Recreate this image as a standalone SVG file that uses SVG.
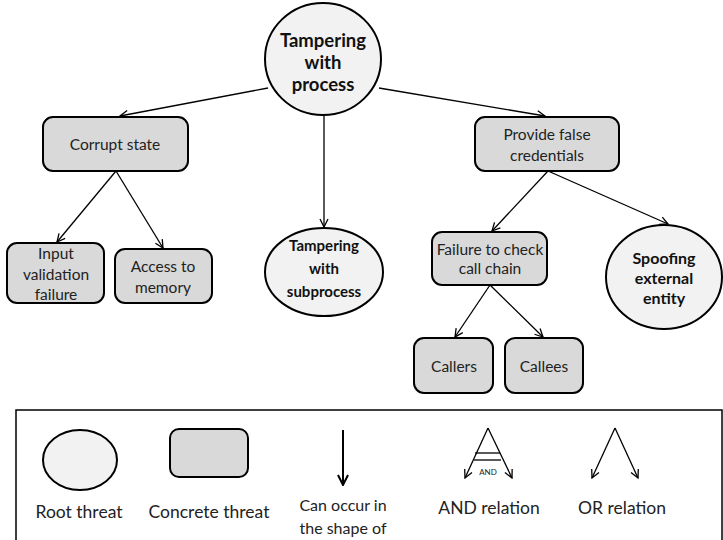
<svg xmlns="http://www.w3.org/2000/svg" width="723" height="540" viewBox="0 0 723 540">
  <style>
    .root { fill: #f2f2f2; stroke: #000; stroke-width: 2; }
    .box { fill: #d9d9d9; stroke: #000; stroke-width: 2; }
    .lbl { font-family: Lato, "Liberation Sans", sans-serif; font-size: 15.5px; fill: #222; text-anchor: middle; dominant-baseline: central; }
    .bold { font-weight: bold; font-size: 16px; fill: #111; }
    .key { font-size: 17.5px; }
    .edge { stroke: #000; stroke-width: 1.3; fill: none; marker-end: url(#arr); }
    .leg { stroke: #000; stroke-width: 1.3; fill: none; }
  </style>
  <defs>
    <marker id="arr" viewBox="0 0 10 10" refX="9" refY="5" markerWidth="10" markerHeight="10" markerUnits="userSpaceOnUse" orient="auto">
      <path d="M1,1 L9,5 L1,9" fill="none" stroke="#000" stroke-width="1.3"/>
    </marker>
    <marker id="arrBig" viewBox="0 0 12 12" refX="11" refY="6" markerWidth="12" markerHeight="12" markerUnits="userSpaceOnUse" orient="auto">
      <path d="M1,1 L11,6 L1,11" fill="none" stroke="#000" stroke-width="2"/>
    </marker>
  </defs>
  <rect width="723" height="540" fill="#fff"/>

  <!-- connectors -->
  <g id="connectors">
    <line class="edge" x1="268" y1="88" x2="120" y2="116"/>
    <line class="edge" x1="379" y1="88" x2="545" y2="116"/>
    <line class="edge" x1="324" y1="116" x2="324" y2="227"/>
    <line class="edge" x1="116" y1="171" x2="57" y2="242"/>
    <line class="edge" x1="116" y1="171" x2="163" y2="248"/>
    <line class="edge" x1="548" y1="171" x2="492" y2="231"/>
    <line class="edge" x1="548" y1="171" x2="668" y2="224"/>
    <line class="edge" x1="490" y1="285" x2="455" y2="337"/>
    <line class="edge" x1="490" y1="285" x2="543" y2="337"/>
  </g>

  <g id="tampering-process">
    <ellipse class="root" cx="323" cy="59" rx="58" ry="56"/>
    <text class="lbl bold" x="323" y="40" style="font-size:18.5px">Tampering</text>
    <text class="lbl bold" x="323" y="62" style="font-size:18.5px">with</text>
    <text class="lbl bold" x="323" y="84" style="font-size:18.5px">process</text>
  </g>

  <g id="corrupt-state">
    <rect class="box" x="43" y="117" width="145" height="54" rx="10"/>
    <text class="lbl" x="115" y="144">Corrupt state</text>
  </g>

  <g id="provide-false-credentials">
    <rect class="box" x="475" y="117" width="144" height="54" rx="10"/>
    <text class="lbl" x="547" y="134">Provide false</text>
    <text class="lbl" x="547" y="155">credentials</text>
  </g>

  <g id="input-validation-failure">
    <rect class="box" x="7" y="243" width="97" height="60" rx="10"/>
    <text class="lbl" x="56" y="253">Input</text>
    <text class="lbl" x="56" y="274">validation</text>
    <text class="lbl" x="56" y="294">failure</text>
  </g>

  <g id="access-to-memory">
    <rect class="box" x="115" y="249" width="97" height="54" rx="10"/>
    <text class="lbl" x="163" y="266">Access to</text>
    <text class="lbl" x="163" y="287">memory</text>
  </g>

  <g id="tampering-subprocess">
    <ellipse class="root" cx="324" cy="272" rx="59" ry="44"/>
    <text class="lbl bold" x="324" y="245" style="font-size:15px">Tampering</text>
    <text class="lbl bold" x="324" y="268" style="font-size:15px">with</text>
    <text class="lbl bold" x="324" y="291" style="font-size:15px">subprocess</text>
  </g>

  <g id="failure-check-call-chain">
    <rect class="box" x="432" y="232" width="115" height="53" rx="10"/>
    <text class="lbl" x="490" y="249">Failure to check</text>
    <text class="lbl" x="490" y="268">call chain</text>
  </g>

  <g id="spoofing-external-entity">
    <ellipse class="root" cx="664" cy="277" rx="58" ry="52"/>
    <text class="lbl bold" x="664" y="257">Spoofing</text>
    <text class="lbl bold" x="664" y="277">external</text>
    <text class="lbl bold" x="664" y="297">entity</text>
  </g>

  <g id="callers">
    <rect class="box" x="414" y="338" width="79" height="55" rx="10"/>
    <text class="lbl" x="454" y="366">Callers</text>
  </g>

  <g id="callees">
    <rect class="box" x="505" y="338" width="78" height="55" rx="10"/>
    <text class="lbl" x="544" y="366">Callees</text>
  </g>

  <!-- legend -->
  <g id="legend">
    <rect x="16" y="410" width="706" height="140" fill="#fff" stroke="#000" stroke-width="1.5"/>
    <ellipse class="root" cx="80" cy="460" rx="37" ry="30"/>
    <text class="lbl key" x="79" y="511">Root threat</text>
    <rect class="box" x="170" y="429" width="78" height="48" rx="9"/>
    <text class="lbl key" x="209" y="511">Concrete threat</text>
    <line x1="343" y1="430" x2="343" y2="485" stroke="#000" stroke-width="2" marker-end="url(#arrBig)"/>
    <text class="lbl" x="343" y="504" style="font-size:16px">Can occur in</text>
    <text class="lbl" x="343" y="527" style="font-size:16px">the shape of</text>
    <!-- AND symbol -->
    <line class="edge" x1="488" y1="428" x2="465" y2="478"/>
    <line class="edge" x1="488" y1="428" x2="512" y2="478"/>
    <line class="leg" x1="475" y1="453" x2="500" y2="453" stroke-width="2"/>
    <line class="leg" x1="474" y1="460" x2="501" y2="460" stroke-width="2"/>
    <text class="lbl" x="488" y="472" style="font-size:8px">AND</text>
    <text class="lbl key" x="489" y="507">AND relation</text>
    <!-- OR symbol -->
    <line class="edge" x1="615" y1="428" x2="592" y2="478"/>
    <line class="edge" x1="615" y1="428" x2="638" y2="478"/>
    <text class="lbl key" x="622" y="507">OR relation</text>
  </g>
</svg>
